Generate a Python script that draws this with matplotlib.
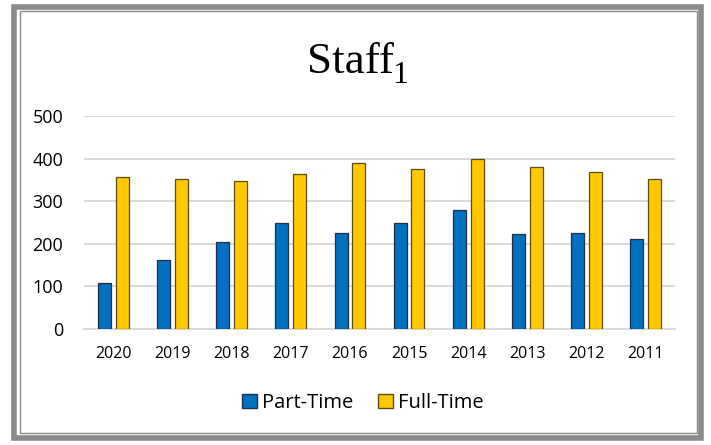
import numpy as np
import matplotlib.pyplot as plt
from matplotlib.patches import Rectangle, Patch

years = ['2020', '2019', '2018', '2017', '2016', '2015', '2014', '2013', '2012', '2011']
part_time = [109, 162, 205, 249, 226, 250, 280, 223, 226, 212]
full_time = [357, 352, 347, 364, 390, 375, 399, 381, 368, 351]

plt.rcParams['font.family'] = ['Open Sans', 'DejaVu Sans']

W, H = 711, 445
fig = plt.figure(figsize=(W / 100, H / 100), dpi=100)
ax = fig.add_axes([84 / W, 1 - 329 / H, 591 / W, 213 / H])

x = np.arange(len(years))
bw = 0.22
ax.bar(x - 0.15, part_time, bw, color='#0070C0', edgecolor='#1f2f45', linewidth=0.9, zorder=3)
ax.bar(x + 0.15, full_time, bw, color='#FFC800', edgecolor='#5e4a12', linewidth=0.9, zorder=3)

ax.set_xlim(-0.5, len(years) - 0.5)
ax.set_ylim(0, 500)
ax.set_yticks([0, 100, 200, 300, 400, 500])
ax.set_xticks(x)
ax.set_xticklabels(years)
ax.grid(axis='y', color='#d9d9d9', linewidth=1.4, zorder=0)
ax.set_axisbelow(True)
for s in ['top', 'right', 'left']:
    ax.spines[s].set_visible(False)
ax.spines['bottom'].set_color('#d9d9d9')
ax.spines['bottom'].set_linewidth(1.4)
ax.tick_params(axis='x', length=0, pad=12, labelsize=11.5, colors='#000000')
ax.tick_params(axis='y', length=0, pad=15, labelsize=13, colors='#000000')

# title, subscript drawn a little lower like the original
fig.text(307 / W, 1 - 73 / H, 'Staff', fontsize=32.5,
         family='Liberation Serif', ha='left', va='baseline')
fig.text(392 / W, 1 - 83 / H, '1', fontsize=23,
         family='Liberation Serif', ha='left', va='baseline')

# legend
handles = [Patch(facecolor='#0070C0', edgecolor='#1f2f45', label='Part-Time'),
           Patch(facecolor='#FFC800', edgecolor='#5e4a12', label='Full-Time')]
fig.legend(handles=handles, loc='center', bbox_to_anchor=(363 / W, 1 - 403 / H), ncol=2,
           frameon=False, fontsize=14.5, handlelength=0.75, handleheight=0.75,
           handletextpad=0.25, columnspacing=1.2)

# frame around the chart
fig.patches.append(Rectangle((14 / W, 1 - 438 / H), 686.5 / W, 431.5 / H, transform=fig.transFigure,
                             fill=False, edgecolor='#8a8a8a', linewidth=4.0))
fig.patches.append(Rectangle((19.5 / W, 1 - 433 / H), 677.5 / W, 422 / H, transform=fig.transFigure,
                             fill=False, edgecolor='#8a8a8a', linewidth=1.0))

fig.savefig('out.png', dpi=100)
